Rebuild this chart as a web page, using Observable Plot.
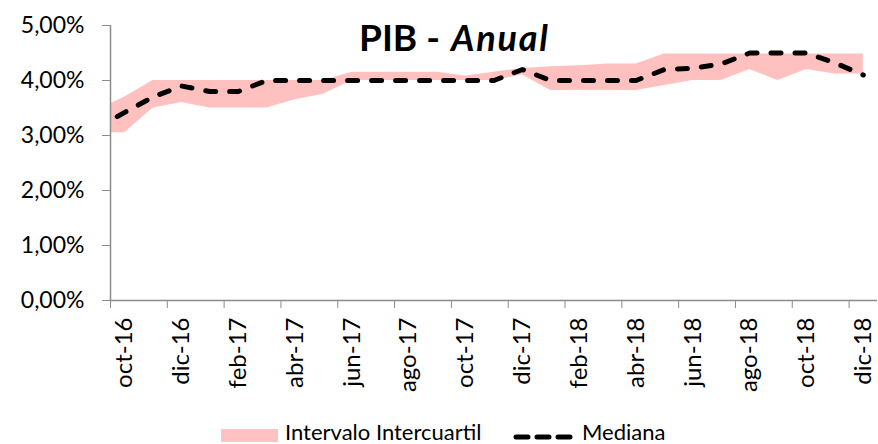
<!DOCTYPE html>
<html>
<head>
<meta charset="utf-8">
<script src="https://cdn.jsdelivr.net/npm/d3@7"></script>
<script src="https://cdn.jsdelivr.net/npm/@observablehq/plot@0.6"></script>
<style>
  body { margin: 0; background: #fff; font-family: Lato, "Open Sans", sans-serif; }
  #wrap { position: relative; width: 878px; height: 444px; overflow: hidden; background: #fff; }
  #chart { position: absolute; left: 0; top: 0; }
  #title { position: absolute; left: 359px; top: 18px; line-height: 1; white-space: nowrap; color: #000; font-weight: 700; }
  #title .a { font-size: 37px; }
  #title .d { font-size: 37px; margin: 0 11px 0 9px; }
  #title .b { font-size: 36px; font-style: italic; letter-spacing: 1.8px; }
  .lg { position: absolute; white-space: nowrap; font-size: 22px; line-height: 1; color: #000; }
</style>
</head>
<body>
<div id="wrap">
  <div id="chart"></div>
  <div id="title"><span class="a">PIB</span><span class="d">-</span><span class="b">Anual</span></div>
  <div id="sw1" style="position:absolute;left:221px;top:429px;width:57px;height:13px;background:#ffc1c1;"></div>
  <div class="lg" style="left:285px;top:421px;">Intervalo Intercuartil</div>
  <svg style="position:absolute;left:512px;top:431px;" width="62" height="12"><line x1="4" y1="6" x2="58" y2="6" stroke="#000" stroke-width="5" stroke-linecap="round" stroke-dasharray="12,9"></line></svg>
  <div class="lg" style="left:582px;top:421px;">Mediana</div>
</div>
<script>
// Months (first one lies just left of the plotted window)
const months = ["sep-16","oct-16","nov-16","dic-16","ene-17","feb-17","mar-17","abr-17","may-17","jun-17","jul-17","ago-17","sep-17","oct-17","nov-17","dic-17","ene-18","feb-18","mar-18","abr-18","may-18","jun-18","jul-18","ago-18","sep-18","oct-18","nov-18","dic-18"];
// Median expectation (%)
const mediana = [3.13,3.42,3.70,3.90,3.80,3.80,4.00,4.00,4.00,4.00,4.00,4.00,4.00,4.00,4.00,4.20,4.00,4.00,4.00,4.00,4.20,4.22,4.30,4.50,4.50,4.50,4.32,4.10];
// First quartile (%)
const q1 = [3.05,3.05,3.50,3.60,3.50,3.50,3.50,3.65,3.75,4.00,4.00,4.00,4.00,4.00,4.00,4.10,3.82,3.82,3.82,3.82,3.91,4.00,4.00,4.20,4.00,4.20,4.12,4.12];
// Third quartile (%)
const q3 = [3.45,3.70,4.00,4.00,4.00,4.00,4.00,4.00,4.00,4.15,4.15,4.15,4.15,4.08,4.15,4.22,4.25,4.27,4.30,4.30,4.48,4.48,4.48,4.48,4.48,4.48,4.48,4.48];
// Tick labels shown on the x axis
const xLabels = ["oct-16","dic-16","feb-17","abr-17","jun-17","ago-17","oct-17","dic-17","feb-18","abr-18","jun-18","ago-18","oct-18","dic-18"];
const yTicks = [0, 1, 2, 3, 4, 5];

const startIdx = months.indexOf("oct-16");
const data = months.map((m, k) => ({ i: k - startIdx, month: m, med: mediana[k], lo: q1[k], hi: q3[k] }));
const labelPos = xLabels.map(l => months.indexOf(l) - startIdx);
const labelOf = new Map(xLabels.map((l, k) => [labelPos[k], l]));
const boundaries = labelPos.map(p => p - 0.5);
const nCats = months.length - startIdx;

const axisGray = "#8c8c8c";
const chart = Plot.plot({
  width: 878,
  height: 412,
  marginLeft: 110,
  marginRight: 1,
  marginTop: 25,
  marginBottom: 112,
  style: { fontFamily: "Lato, 'Open Sans', sans-serif", fontSize: "22px", color: "#000", background: "transparent" },
  x: { type: "linear", domain: [-0.5, nCats - 0.5] },
  y: { domain: [0, 5] },
  marks: [
    Plot.areaY(data, { x: "i", y1: "lo", y2: "hi", fill: "#ffc0c0", clip: true }),
    Plot.lineY(data, { x: "i", y: "med", stroke: "#000", strokeWidth: 5, strokeDasharray: "10,14", strokeLinecap: "round", clip: true }),
    Plot.ruleX([-0.5], { stroke: axisGray, strokeWidth: 1.5 }),
    Plot.ruleY([0], { stroke: axisGray, strokeWidth: 1.5 }),
    Plot.axisY({ ticks: yTicks, tickFormat: d => d.toFixed(2).replace(".", ",") + "%", tickSize: 8, tickPadding: 18, stroke: axisGray, fontSize: 23, label: null }),
    Plot.axisX({ ticks: boundaries, tickFormat: () => "", tickSize: 8, stroke: axisGray, label: null }),
    Plot.axisX({ ticks: labelPos, tickFormat: d => labelOf.get(d), tickSize: 0, tickPadding: 17, tickRotate: -90, fontSize: 24, label: null })
  ]
});
document.getElementById("chart").appendChild(chart);
</script>
</body>
</html>
